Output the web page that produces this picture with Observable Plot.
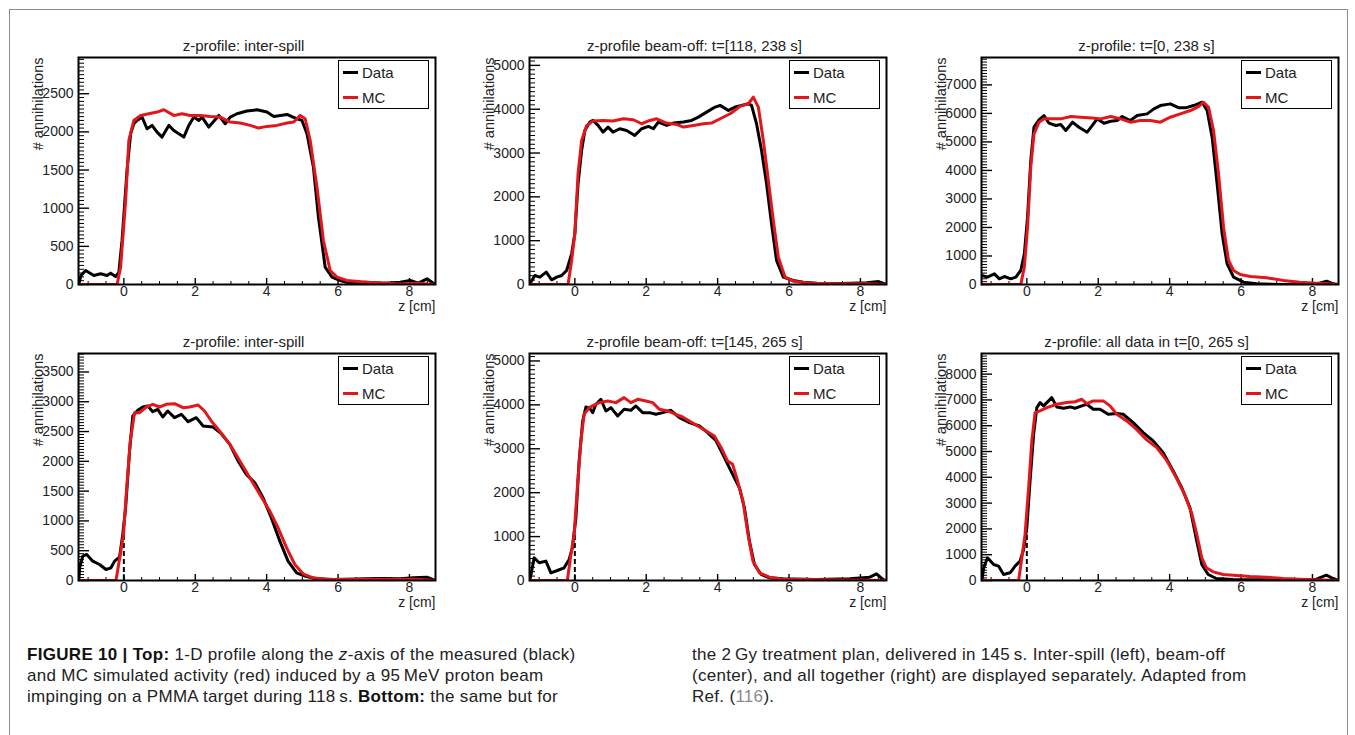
<!DOCTYPE html>
<html>
<head>
<meta charset="utf-8">
<script src="https://cdn.jsdelivr.net/npm/d3@7"></script>
<script src="https://cdn.jsdelivr.net/npm/@observablehq/plot@0.6"></script>
<style>
  html, body { margin: 0; padding: 0; background: #fff; }
  #page { position: relative; width: 1355px; height: 735px; overflow: hidden; background: #fff;
          font-family: "Liberation Sans", Arial, Helvetica, sans-serif; }
  #border { position: absolute; left: 9px; top: 9px; width: 1337px; height: 800px; border: 1px solid #8c8c8c; }
  .panel { position: absolute; }
  .panel svg { max-width: none !important; display: block; }
  .legend { position: absolute; width: 89px; height: 47px; border: 1.5px solid #000; background: #fff; }
  .legend .row { position: absolute; left: 0; height: 20px; width: 100%; }
  .legend .swatch { position: absolute; left: 4px; top: 8px; width: 15px; height: 3px; }
  .legend .lab { position: absolute; left: 23px; top: 0; font-size: 15px; line-height: 20px; color: #222; }
  .cap { position: absolute; font-family: "Liberation Sans", Arial, sans-serif;
         font-size: 17px; letter-spacing: 0.3px; line-height: 21px; color: #222; white-space: nowrap; }
  .cap b { color: #111; }
  .ref { color: #8a8a8a; }
</style>
</head>
<body>
<div id="page">
  <div id="border"></div>
</div>
<script>
// ---------------- data ----------------
const seriesNames = ["Data", "MC"];
const seriesColors = ["#000000", "#e3161c"];

const titles = [
  "z-profile: inter-spill",
  "z-profile beam-off: t=[118, 238 s]",
  "z-profile: t=[0, 238 s]",
  "z-profile: inter-spill",
  "z-profile beam-off: t=[145, 265 s]",
  "z-profile: all data in t=[0, 265 s]"
];
const yAxisLabel = "# annihilations";
const xAxisLabel = "z [cm]";

const yMaxes = [2975, 5180, 7960, 3810, 5170, 8800];
const yMajorTicks = [
  [0, 500, 1000, 1500, 2000, 2500],
  [0, 1000, 2000, 3000, 4000, 5000],
  [0, 1000, 2000, 3000, 4000, 5000, 6000, 7000],
  [0, 500, 1000, 1500, 2000, 2500, 3000, 3500],
  [0, 1000, 2000, 3000, 4000, 5000],
  [0, 1000, 2000, 3000, 4000, 5000, 6000, 7000, 8000]
];
const yMinorSteps = [50, 100, 100, 50, 100, 100];
const xDomain = [-1.27, 8.73];
const xMajorTicks = [0, 2, 4, 6, 8];
const xMinorTicks = [-1, -0.5, 0.5, 1, 1.5, 2.5, 3, 3.5, 4.5, 5, 5.5, 6.5, 7, 7.5, 8.5];
// dashed marker at z = 0 (bottom row): height of the marker
const dashHeights = [null, null, null, 950, 1060, 1920];

const topLeftData = [[-1.26,10],[-1.2,120],[-1.07,184],[-0.84,118],[-0.65,140],[-0.47,118],[-0.37,149],[-0.23,105],[-0.14,160],[-0.05,577],[0.09,1500],[0.19,1975],[0.28,2107],[0.37,2150],[0.51,2194],[0.65,2041],[0.79,2085],[0.93,1997],[1.07,1932],[1.26,2085],[1.40,2019],[1.68,1932],[1.82,2085],[1.96,2194],[2.10,2150],[2.19,2194],[2.38,2063],[2.66,2216],[2.84,2107],[2.98,2194],[3.17,2238],[3.45,2273],[3.73,2290],[4.01,2260],[4.20,2203],[4.57,2229],[4.85,2172],[4.99,2150],[5.13,1975],[5.31,1539],[5.45,883],[5.64,227],[5.83,96],[6.06,52],[6.34,17],[6.81,30],[7.28,17],[7.74,30],[8.02,52],[8.25,17],[8.49,74],[8.63,30],[8.72,0]];
const topLeftMC = [[-1.26,0],[-0.19,0],[-0.09,227],[0.05,1100],[0.14,1888],[0.28,2150],[0.47,2216],[0.70,2238],[0.93,2260],[1.12,2290],[1.40,2216],[1.63,2238],[1.86,2216],[2.14,2216],[2.42,2203],[2.70,2194],[2.98,2129],[3.26,2116],[3.54,2085],[3.78,2050],[4.01,2072],[4.29,2085],[4.57,2116],[4.76,2129],[4.94,2216],[5.08,2172],[5.22,1888],[5.41,1276],[5.59,577],[5.78,184],[5.97,96],[6.25,52],[6.81,30],[7.74,8],[8.2,17],[8.72,0]];

const topMidData = [[-1.26,15],[-1.12,205],[-0.98,167],[-0.80,282],[-0.65,107],[-0.51,167],[-0.37,205],[-0.23,320],[-0.09,700],[0,1157],[0.09,2298],[0.19,3059],[0.28,3516],[0.42,3706],[0.51,3744],[0.65,3630],[0.79,3478],[0.93,3592],[1.07,3478],[1.26,3554],[1.45,3516],[1.68,3402],[1.87,3554],[2.06,3607],[2.20,3554],[2.34,3706],[2.57,3630],[2.76,3683],[3.04,3706],[3.27,3744],[3.46,3820],[3.69,3934],[3.93,4049],[4.07,4087],[4.30,3972],[4.49,4049],[4.67,4087],[4.86,4125],[4.95,4087],[5.09,3668],[5.23,3059],[5.37,2298],[5.51,1385],[5.65,548],[5.84,167],[6.12,91],[6.40,53],[6.78,30],[7.25,15],[7.71,30],[8.18,38],[8.51,68],[8.72,0]];
const topMidMC = [[-1.26,0],[-0.19,0],[-0.09,548],[0,1157],[0.09,2527],[0.19,3288],[0.33,3630],[0.51,3729],[0.79,3744],[1.07,3729],[1.36,3782],[1.64,3760],[1.87,3668],[2.10,3744],[2.29,3782],[2.57,3683],[2.85,3653],[3.04,3592],[3.32,3630],[3.60,3668],[3.83,3683],[4.07,3782],[4.35,3896],[4.63,4064],[4.86,4125],[5.00,4277],[5.14,4049],[5.28,3288],[5.42,2374],[5.56,1461],[5.70,624],[5.89,167],[6.12,76],[6.60,30],[7.25,15],[8.18,15],[8.72,0]];

const topRightData = [[-1.26,315],[-1.10,257],[-0.91,374],[-0.77,199],[-0.63,280],[-0.45,199],[-0.31,257],[-0.17,491],[-0.07,1075],[0.02,2360],[0.11,4347],[0.20,5516],[0.34,5773],[0.48,5925],[0.62,5656],[0.81,5574],[0.95,5610],[1.09,5399],[1.28,5691],[1.46,5516],[1.69,5340],[1.83,5574],[1.97,5808],[2.16,5656],[2.35,5726],[2.53,5750],[2.67,5890],[2.90,5750],[3.09,5925],[3.37,5983],[3.56,6158],[3.74,6275],[4.02,6334],[4.26,6194],[4.44,6194],[4.67,6275],[4.91,6392],[5.05,6100],[5.19,5165],[5.33,3529],[5.47,1776],[5.61,724],[5.79,257],[6.07,82],[6.44,23],[7.19,0],[8.12,23],[8.40,117],[8.58,23],[8.72,0]];
const topRightMC = [[-1.26,0],[-0.17,0],[-0.07,608],[0.02,2010],[0.11,4113],[0.20,5282],[0.34,5691],[0.48,5808],[0.67,5808],[0.95,5808],[1.23,5890],[1.51,5866],[1.83,5840],[2.07,5808],[2.35,5890],[2.63,5808],[2.90,5691],[3.18,5750],[3.46,5750],[3.74,5691],[4.02,5866],[4.30,5983],[4.58,6100],[4.81,6240],[4.95,6392],[5.09,6217],[5.23,5399],[5.37,3880],[5.51,2010],[5.65,841],[5.79,491],[5.98,351],[6.26,280],[6.72,234],[7.19,140],[7.65,82],[8.12,47],[8.72,0]];

const bottomLeftData = [[-1.26,0],[-1.24,213],[-1.15,409],[-1.04,437],[-0.87,325],[-0.68,269],[-0.50,185],[-0.36,213],[-0.26,325],[-0.12,392],[-0.03,773],[0.05,1221],[0.16,2173],[0.25,2761],[0.39,2856],[0.53,2912],[0.67,2929],[0.81,2834],[0.95,2873],[1.09,2744],[1.23,2845],[1.42,2733],[1.61,2789],[1.80,2666],[2.03,2733],[2.22,2593],[2.50,2576],[2.73,2464],[2.97,2285],[3.20,2005],[3.43,1781],[3.67,1641],[3.90,1389],[4.13,1053],[4.37,661],[4.60,325],[4.84,129],[5.07,73],[5.35,34],[5.87,17],[6.80,28],[7.27,34],[7.74,28],[8.11,45],[8.49,56],[8.72,0]];
const bottomLeftMC = [[-1.26,0],[-0.22,0],[-0.10,437],[-0.01,773],[0.08,1557],[0.18,2341],[0.30,2817],[0.44,2817],[0.63,2912],[0.81,2957],[1.00,2912],[1.19,2957],[1.42,2968],[1.66,2901],[1.84,2912],[2.08,2946],[2.26,2845],[2.45,2677],[2.68,2509],[2.97,2285],[3.25,2005],[3.53,1725],[3.81,1445],[4.09,1165],[4.32,885],[4.56,549],[4.79,269],[5.02,112],[5.30,45],[5.68,17],[6.80,17],[8.20,22],[8.72,0]];

const bottomMidData = [[-1.26,0],[-1.14,517],[-1.00,403],[-0.81,441],[-0.67,175],[-0.49,228],[-0.30,289],[-0.16,479],[-0.07,745],[0.03,1429],[0.12,2721],[0.22,3633],[0.31,3952],[0.40,3937],[0.50,3823],[0.59,4013],[0.73,4127],[0.87,3861],[1.01,3937],[1.20,3747],[1.38,3899],[1.57,3876],[1.71,3975],[1.90,3823],[2.09,3823],[2.27,3785],[2.46,3823],[2.69,3876],[2.93,3709],[3.21,3595],[3.49,3519],[3.72,3367],[3.96,3177],[4.19,2797],[4.42,2417],[4.61,2113],[4.75,1657],[4.89,897],[5.03,365],[5.22,137],[5.45,61],[5.83,38],[6.76,23],[7.70,38],[8.26,76],[8.45,152],[8.63,23],[8.72,0]];
const bottomMidMC = [[-1.26,0],[-0.21,0],[-0.11,593],[-0.02,1049],[0.07,2113],[0.17,3177],[0.26,3785],[0.40,3937],[0.68,4051],[0.92,4089],[1.15,4051],[1.38,4165],[1.57,4051],[1.76,4127],[1.99,4089],[2.18,4051],[2.37,3899],[2.60,3861],[2.83,3785],[3.02,3724],[3.21,3633],[3.44,3519],[3.68,3405],[3.91,3291],[4.10,3025],[4.28,2721],[4.42,2645],[4.56,2265],[4.71,1809],[4.85,1049],[4.99,441],[5.17,175],[5.45,76],[5.83,30],[8.72,0]];

const bottomRightData = [[-1.26,0],[-1.21,492],[-1.10,880],[-0.93,621],[-0.79,556],[-0.65,233],[-0.47,298],[-0.33,556],[-0.19,751],[-0.09,1203],[0,2045],[0.09,3856],[0.19,5668],[0.28,6703],[0.37,6897],[0.47,6768],[0.56,6897],[0.70,7091],[0.84,6729],[1.03,6677],[1.21,6729],[1.35,6677],[1.54,6768],[1.68,6832],[1.86,6638],[2.05,6638],[2.28,6444],[2.52,6470],[2.70,6444],[2.98,6121],[3.26,5732],[3.54,5409],[3.82,4956],[4.10,4244],[4.34,3597],[4.57,2821],[4.76,1527],[4.90,621],[5.08,233],[5.31,78],[5.78,39],[7.18,26],[8.11,52],[8.39,207],[8.58,78],[8.72,0]];
const bottomRightMC = [[-1.26,0],[-0.23,0],[-0.14,880],[-0.05,1786],[0.05,3597],[0.14,5409],[0.23,6509],[0.37,6574],[0.56,6703],[0.84,6832],[1.12,6897],[1.35,6930],[1.54,7026],[1.68,6858],[1.86,6962],[2.14,6962],[2.33,6768],[2.52,6444],[2.80,6185],[3.08,5850],[3.36,5450],[3.64,5150],[3.92,4650],[4.20,3950],[4.43,3300],[4.62,2600],[4.76,1786],[4.90,880],[5.03,492],[5.22,336],[5.50,233],[5.78,207],[6.25,155],[6.71,129],[7.18,78],[7.65,52],[8.72,0]];

const panelData = [topLeftData, topMidData, topRightData, bottomLeftData, bottomMidData, bottomRightData];
const panelMC = [topLeftMC, topMidMC, topRightMC, bottomLeftMC, bottomMidMC, bottomRightMC];

// ---------------- layout ----------------
const frameW = 357, frameH = 227;
const frameLefts = [78, 529, 981, 78, 529, 981];
const frameTops = [57, 57, 57, 353, 353, 353];
const mL = 70, mT = 45, mR = 14, mB = 40;
const svgW = mL + frameW + mR, svgH = mT + frameH + mB;
const FONT = "'Liberation Sans', Arial, Helvetica, sans-serif";

const page = document.getElementById("page");

titles.forEach((title, i) => {
  const yMax = yMaxes[i];
  const yMinor = d3.range(0, yMax, yMinorSteps[i]).filter(v => !yMajorTicks[i].includes(v));
  const marks = [
    // minor / major ticks inside the frame (ROOT style)
    Plot.ruleY(yMinor, {y: d => d, insetRight: frameW - 6, stroke: "#000", strokeWidth: 1}),
    Plot.ruleY(yMajorTicks[i], {y: d => d, insetRight: frameW - 11, stroke: "#000", strokeWidth: 1.4}),
    Plot.ruleX(xMinorTicks, {x: d => d, insetTop: frameH - 3, stroke: "#000", strokeWidth: 1}),
    Plot.ruleX(xMajorTicks, {x: d => d, insetTop: frameH - 6, stroke: "#000", strokeWidth: 1.4}),
    Plot.axisY(yMajorTicks[i], {tickSize: 0, tickPadding: 5, label: null, tickFormat: d => String(d), fontSize: 14, fill: "#222"}),
    Plot.axisX(xMajorTicks, {tickSize: 0, tickPadding: 2, label: null, tickFormat: d => String(d), fontSize: 14, fill: "#222"})
  ];
  if (dashHeights[i] != null) {
    marks.push(Plot.ruleX([0], {x: d => d, y1: 0, y2: dashHeights[i], stroke: "#000", strokeWidth: 2, strokeDasharray: "5,3"}));
  }
  marks.push(
    Plot.line(panelData[i], {x: d => d[0], y: d => d[1], stroke: seriesColors[0], strokeWidth: 3, clip: true}),
    Plot.line(panelMC[i], {x: d => d[0], y: d => d[1], stroke: seriesColors[1], strokeWidth: 3, clip: true}),
    Plot.frame({stroke: "#000", strokeWidth: 2}),
    Plot.text([title], {frameAnchor: "top", dx: -13.5, dy: -17, fontSize: 15, fill: "#222"}),
    Plot.text([yAxisLabel], {frameAnchor: "top-left", rotate: -90, textAnchor: "end", dx: -46, dy: 0, fontSize: 14.5, fill: "#222"}),
    Plot.text([xAxisLabel], {frameAnchor: "bottom-right", textAnchor: "end", dy: 26, fontSize: 14, fill: "#222"})
  );
  const svg = Plot.plot({
    width: svgW, height: svgH,
    marginLeft: mL, marginTop: mT,
    marginRight: mR, marginBottom: mB,
    x: {domain: xDomain},
    y: {domain: [0, yMax]},
    style: {fontFamily: FONT, background: "transparent", overflow: "visible", maxWidth: "none"},
    marks
  });
  const holder = document.createElement("div");
  holder.className = "panel";
  holder.style.left = (frameLefts[i] - mL) + "px";
  holder.style.top = (frameTops[i] - mT) + "px";
  holder.style.width = svgW + "px";
  holder.style.height = svgH + "px";
  holder.appendChild(svg);
  page.appendChild(holder);

  // legend box (top-right corner inside frame)
  const leg = document.createElement("div");
  leg.className = "legend";
  leg.style.left = (frameLefts[i] + frameW - 97) + "px";
  leg.style.top = (frameTops[i] + 3) + "px";
  seriesNames.forEach((name, k) => {
    const row = document.createElement("div");
    row.className = "row";
    row.style.top = (2 + k * 25) + "px";
    row.innerHTML = `<div class="swatch" style="background:${seriesColors[k]}"></div><div class="lab">${name}</div>`;
    leg.appendChild(row);
  });
  page.appendChild(leg);
});

// caption
const capLeft = [
  '<b>FIGURE 10 | Top:</b> 1-D profile along the <i>z</i>-axis of the measured (black)',
  'and MC simulated activity (red) induced by a 95\u2009MeV proton beam',
  'impinging on a PMMA target during 118\u2009s. <b>Bottom:</b> the same but for'
];
const capRight = [
  'the 2\u2009Gy treatment plan, delivered in 145\u2009s. Inter-spill (left), beam-off',
  '(center), and all together (right) are displayed separately. Adapted from',
  'Ref. (<span class="ref">116</span>).'
];
function addCap(lines, left) {
  const d = document.createElement("div");
  d.className = "cap";
  d.style.left = left + "px";
  d.style.top = "644px";
  d.innerHTML = lines.join("<br>");
  page.appendChild(d);
}
addCap(capLeft, 27);
addCap(capRight, 692);
</script>
</body>
</html>
